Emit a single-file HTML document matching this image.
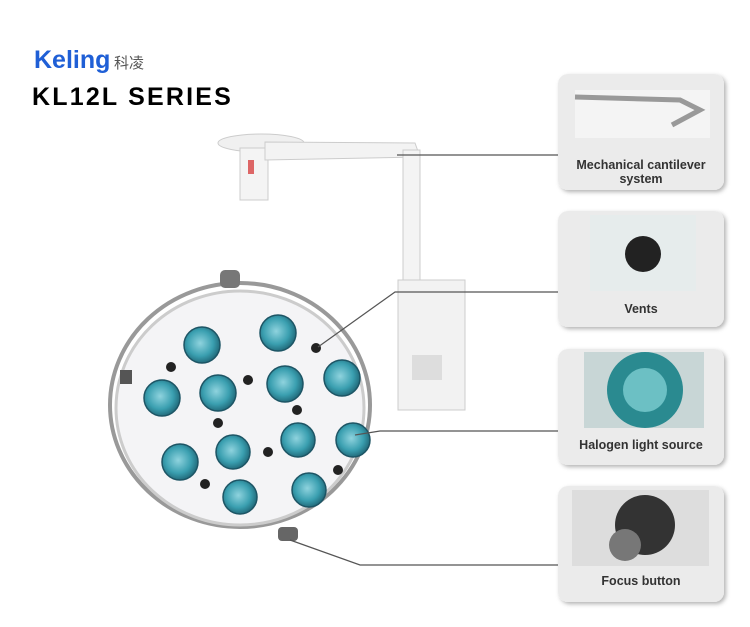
<!DOCTYPE html>
<html><head><style>body{margin:0;background:#fff}svg{display:block}</style></head><body>
<svg width="750" height="627" xmlns="http://www.w3.org/2000/svg" font-family="Liberation Sans, sans-serif">
<defs>
<filter id="sh" x="-10%" y="-10%" width="130%" height="130%"><feDropShadow dx="2" dy="2" stdDeviation="2" flood-color="#000" flood-opacity="0.3"/></filter>
<radialGradient id="lens" cx="0.45" cy="0.45" r="0.6"><stop offset="0" stop-color="#8fd3de"/><stop offset="0.6" stop-color="#3a9fb0"/><stop offset="1" stop-color="#1d6070"/></radialGradient>
</defs>
<text x="34" y="68" font-size="25" font-weight="bold" fill="#1f5fd6">Keling</text>
<text x="114" y="68" font-size="15" fill="#555" font-family="Noto Sans CJK SC, sans-serif">科凌</text>
<text x="32" y="105" font-size="25" font-weight="bold" fill="#000" letter-spacing="2.2">KL12L SERIES</text>
<!-- arm -->
<ellipse cx="261" cy="143" rx="43" ry="9" fill="#f0f0f0" stroke="#ccc"/>
<rect x="240" y="148" width="28" height="52" fill="#f4f4f4" stroke="#ccc"/>
<rect x="248" y="160" width="6" height="14" fill="#d66"/>
<polygon points="265,142 415,143 420,157 265,160" fill="#f3f3f3" stroke="#ccc"/>
<rect x="403" y="150" width="17" height="140" fill="#f4f4f4" stroke="#ccc"/>
<rect x="398" y="280" width="67" height="130" fill="#f2f2f2" stroke="#ccc"/>
<rect x="412" y="355" width="30" height="25" fill="#ddd"/>
<!-- lamp -->
<ellipse cx="240" cy="405" rx="130" ry="122" fill="none" stroke="#999" stroke-width="4"/>
<ellipse cx="240" cy="408" rx="124" ry="117" fill="#f4f4f6" stroke="#ccc" stroke-width="3"/>
<rect x="220" y="270" width="20" height="18" rx="5" fill="#777"/>
<rect x="278" y="527" width="20" height="14" rx="4" fill="#666"/>
<rect x="120" y="370" width="12" height="14" fill="#555"/>
<g fill="url(#lens)" stroke="#1d5565" stroke-width="1.5">
<circle cx="202" cy="345" r="18"/><circle cx="278" cy="333" r="18"/><circle cx="162" cy="398" r="18"/><circle cx="218" cy="393" r="18"/><circle cx="285" cy="384" r="18"/><circle cx="342" cy="378" r="18"/><circle cx="180" cy="462" r="18"/><circle cx="233" cy="452" r="17"/><circle cx="298" cy="440" r="17"/><circle cx="353" cy="440" r="17"/><circle cx="240" cy="497" r="17"/><circle cx="309" cy="490" r="17"/>
</g>
<g fill="#222"><circle cx="316" cy="348" r="5"/><circle cx="171" cy="367" r="5"/><circle cx="248" cy="380" r="5"/><circle cx="297" cy="410" r="5"/><circle cx="218" cy="423" r="5"/><circle cx="268" cy="452" r="5"/><circle cx="338" cy="470" r="5"/><circle cx="205" cy="484" r="5"/></g>
<!-- leaders -->
<g stroke="#555" stroke-width="1.2" fill="none">
<polyline points="397,155 558,155"/>
<polyline points="318,347 395,292 558,292"/>
<polyline points="355,435 380,431 558,431"/>
<polyline points="290,540 360,565 558,565"/>
</g>
<!-- panels -->
<g filter="url(#sh)" fill="#ebebeb">
<rect x="558" y="74" width="166" height="116" rx="10"/>
<rect x="558" y="211" width="166" height="116" rx="10"/>
<rect x="558" y="349" width="166" height="116" rx="10"/>
<rect x="558" y="486" width="166" height="116" rx="10"/>
</g>
<rect x="575" y="90" width="135" height="48" fill="#f4f4f4"/>
<polyline points="575,97 680,100 700,110 672,125" stroke="#999" stroke-width="5" fill="none"/>
<rect x="590" y="215" width="106" height="76" fill="#e6ecec"/>
<circle cx="643" cy="254" r="18" fill="#222"/>
<rect x="584" y="352" width="120" height="76" fill="#c8d6d6"/>
<circle cx="645" cy="390" r="38" fill="#2a8a90"/><circle cx="645" cy="390" r="22" fill="#6cc0c4"/>
<rect x="572" y="490" width="137" height="76" fill="#ddd"/>
<circle cx="645" cy="525" r="30" fill="#333"/><circle cx="625" cy="545" r="16" fill="#777"/>
<g font-size="12.5" font-weight="bold" fill="#333" text-anchor="middle">
<text x="641" y="169">Mechanical cantilever</text><text x="641" y="183">system</text>
<text x="641" y="313">Vents</text>
<text x="641" y="449">Halogen light source</text>
<text x="641" y="585">Focus button</text>
</g>
</svg>
</body></html>
